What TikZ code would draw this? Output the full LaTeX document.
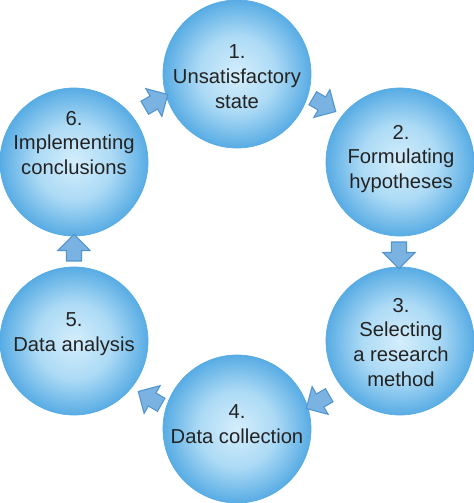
\documentclass[tikz,border=0pt]{standalone}
\usepackage{fontspec}
\setmainfont{Liberation Sans}
\usepackage{tikz}
\usetikzlibrary{shapes.arrows, calc}
\definecolor{cyBubIn}{RGB}{212,238,252}
\definecolor{cyBubMid}{RGB}{172,218,245}
\definecolor{cyBubOut}{RGB}{88,172,228}
\definecolor{cyArrFill}{RGB}{122,178,226}
\definecolor{cyArrLine}{RGB}{80,148,208}
\definecolor{cyText}{RGB}{35,35,35}
\pgfdeclareradialshading{bubble}{\pgfpoint{0bp}{0bp}}{color(0bp)=(cyBubIn); color(13bp)=(cyBubMid); color(25bp)=(cyBubOut); color(50bp)=(cyBubOut)}

\begin{document}
\begin{tikzpicture}[
    bub/.style={circle, minimum size=2.96cm, inner sep=0pt, draw=cyBubOut, line width=0.4pt, shading=bubble},
    txt/.style={align=center, text=cyText, font=\fontsize{11.5}{14.2}\selectfont, inner sep=0pt},
    blk/.style={single arrow, draw=cyArrLine, fill=cyArrFill, line width=0.6pt, inner xsep=0pt, inner ysep=0.14cm, minimum height=0.53cm, single arrow head extend=0.17cm}
  ]
  \useasboundingbox (-4.74,-5.03) rectangle (4.74,5.03);
  \node[bub] (st) at (0,3.55) {};
  \node[bub] (hyp) at (3.26,1.79) {};
  \node[bub] (meth) at (3.26,-1.79) {};
  \node[bub] (coll) at (0,-3.55) {};
  \node[bub] (anal) at (-3.26,-1.79) {};
  \node[bub] (impl) at (-3.26,1.79) {};
  \node[txt] (st-t) at ([yshift=-0.06cm]st) {1.\\Unsatisfactory\\state};
  \node[txt] (hyp-t) at ([xshift=0.02cm,yshift=0.06cm]hyp) {2.\\Formulating\\hypotheses};
  \node[txt] (meth-t) at ([xshift=0.02cm,yshift=-0.03cm]meth) {3.\\Selecting\\a research\\method};
  \node[txt] (coll-t) at ([yshift=0.1cm]coll) {4.\\Data collection};
  \node[txt] (anal-t) at ([yshift=0.13cm]anal) {5.\\Data analysis};
  \node[txt] (impl-t) at ([yshift=0.38cm]impl) {6.\\Implementing\\conclusions};
  \node[blk, rotate=-30] (st-hyp) at ($(st)!.5!(hyp)+(0.05,0.3)$) {};
  \node[blk, rotate=-90] (hyp-meth) at ($(hyp)!.5!(meth)+(-0.02,0)$) {};
  \node[blk, rotate=-150] (meth-coll) at ($(meth)!.5!(coll)+(0.05,-0.3)$) {};
  \node[blk, rotate=150] (coll-anal) at ($(coll)!.5!(anal)+(-0.05,-0.3)$) {};
  \node[blk, rotate=90] (anal-impl) at ($(anal)!.5!(impl)$) {};
  \node[blk, rotate=30] (impl-st) at ($(impl)!.5!(st)+(-0.05,0.3)$) {};
\end{tikzpicture}
\end{document}
